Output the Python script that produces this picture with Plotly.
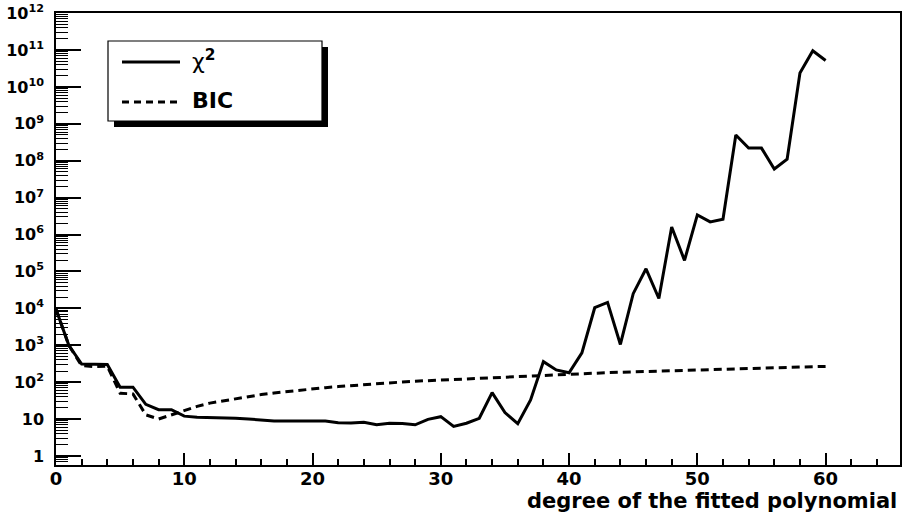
import plotly.graph_objects as go

# Polynomial degree and the two goodness-of-fit measures
degree = list(range(0, 61))

chi2 = [9500, 1000, 310, 300, 300, 73, 73, 25, 18, 18,
        12, 11.2, 11, 11, 10.5, 10, 9.3, 8.9, 8.8, 8.8,
        8.8, 8.8, 8.0, 7.8, 8.2, 7.0, 7.7, 7.6, 7.0, 9.8,
        11.6, 6.3, 7.7, 10.5, 52, 15, 7.5, 33, 360, 215,
        180, 620, 10400, 14500, 1050, 25000, 118000, 18500, 1.6e6, 2.0e5,
        3.4e6, 2.2e6, 2.6e6, 5.0e8, 2.2e8, 2.2e8, 6.0e7, 1.1e8, 2.4e10, 9.6e10,
        5.2e10]

bic = [9500, 1000, 280, 265, 270, 50, 48, 13, 10, 13,
       17, 22, 27, 31, 36, 41, 46, 51, 56, 61,
       66, 71, 76, 81, 86, 91, 96, 101, 106, 110,
       115, 120, 125, 130, 135, 140, 145, 150, 155, 160,
       165, 170, 176, 181, 186, 191, 196, 201, 206, 211,
       216, 221, 227, 232, 237, 242, 247, 252, 257, 262,
       267]

x_ticks = [0, 10, 20, 30, 40, 50, 60]
y_tick_exp = list(range(0, 13))
y_tick_text = ["1", "10"] + ["10<sup>%d</sup>" % e for e in range(2, 13)]
x_title = "degree of the fitted polynomial"
legend_labels = ["χ<sup><b>2</b></sup>", "<b>BIC</b>"]

W, H = 904, 523
L, R, T, B = 56, 900, 13, 465


def px(x):
    return (x - L) / (R - L)


def py(y):
    return (B - y) / (B - T)


fig = go.Figure()
fig.add_trace(go.Scatter(x=degree, y=chi2, mode="lines",
                         line=dict(color="black", width=3), showlegend=False))
fig.add_trace(go.Scatter(x=degree, y=bic, mode="lines",
                         line=dict(color="black", width=3, dash="8px,5px"),
                         showlegend=False))

x_font = dict(family="DejaVu Sans", size=18, color="black", weight="bold")
y_font = dict(family="DejaVu Sans", size=16, color="black", weight="bold")

minor_vals = [k * 10 ** e for e in range(-1, 12) for k in range(2, 10)]

fig.update_xaxes(
    range=[0, 65.8], tickmode="array", tickvals=x_ticks,
    ticks="inside", ticklen=12, tickwidth=1.5, tickcolor="black",
    minor=dict(ticks="inside", ticklen=6, tickwidth=1.5, tickcolor="black",
               dtick=2, tick0=0, showgrid=False),
    showgrid=False, zeroline=False, showline=True, linecolor="black",
    linewidth=1.5, mirror=True, tickfont=x_font, ticklabelstandoff=-3,
    automargin=False,
)
fig.update_yaxes(
    type="log", range=[-0.245, 12.004], tickmode="array",
    tickvals=[10 ** e for e in y_tick_exp], ticktext=y_tick_text,
    ticks="inside", ticklen=25, tickwidth=1.5, tickcolor="black",
    minor=dict(ticks="inside", ticklen=12, tickwidth=1, tickcolor="black",
               tickmode="array", tickvals=minor_vals, showgrid=False),
    showgrid=False, zeroline=False, showline=True, linecolor="black",
    linewidth=1.5, mirror=True, tickfont=y_font, ticklabelstandoff=7,
    automargin=False,
)

shapes = []
# legend box with drop shadow
shapes.append(dict(type="rect", xref="paper", yref="paper",
                   x0=px(114), x1=px(328), y0=py(127), y1=py(47),
                   fillcolor="black", line=dict(width=0), layer="above"))
shapes.append(dict(type="rect", xref="paper", yref="paper",
                   x0=px(108), x1=px(322), y0=py(121), y1=py(41),
                   fillcolor="white", line=dict(color="black", width=1.2),
                   layer="above"))
shapes.append(dict(type="line", xref="paper", yref="paper",
                   x0=px(122), x1=px(180), y0=py(62), y1=py(62),
                   line=dict(color="black", width=3), layer="above"))
shapes.append(dict(type="line", xref="paper", yref="paper",
                   x0=px(122), x1=px(180), y0=py(102), y1=py(102),
                   line=dict(color="black", width=3, dash="7px,5px"),
                   layer="above"))

annotations = [
    dict(text=legend_labels[0], xref="paper", yref="paper",
         x=px(190), y=py(60), xanchor="left", yanchor="middle",
         showarrow=False, font=dict(family="DejaVu Sans", size=22, color="black")),
    dict(text=legend_labels[1], xref="paper", yref="paper",
         x=px(190), y=py(101), xanchor="left", yanchor="middle",
         showarrow=False, font=dict(family="DejaVu Sans", size=22, color="black")),
    dict(text="<b>%s</b>" % x_title, xref="paper", yref="paper",
         x=px(899), y=py(501), xanchor="right", yanchor="middle",
         showarrow=False, font=dict(family="DejaVu Sans", size=21, color="black")),
]

fig.update_layout(
    width=W, height=H,
    margin=dict(l=L, r=W - R, t=T, b=H - B),
    paper_bgcolor="white", plot_bgcolor="white",
    shapes=shapes, annotations=annotations, showlegend=False,
)

fig.write_html("out.html")
